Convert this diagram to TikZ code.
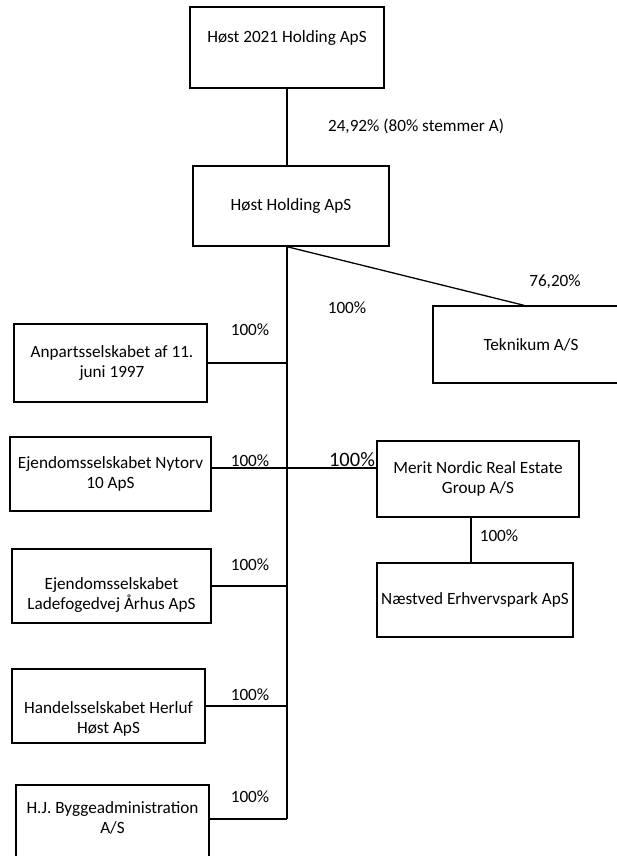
\documentclass[tikz,border=0pt]{standalone}
\usepackage{fontspec}
\setmainfont{Carlito}
\usetikzlibrary{calc}

\begin{document}
\begin{tikzpicture}[x=1pt,y=-1pt,
    company/.style={draw,line width=1.4pt,rectangle,inner sep=0pt,fill=white},
    coname/.style={align=center,font=\fontsize{17.2}{19.5}\selectfont},
    share/.style={font=\fontsize{17.2}{19.5}\selectfont},
    owns/.style={line width=1.3pt}
    ]

  \useasboundingbox (0,0) rectangle (617,856);
  \clip (0,0) rectangle (617,856);

  % top of the group
  \node(holding2021) [company,minimum width=194pt,minimum height=81pt] at (287,47.5) {};
  \node(holding2021Name) [coname,yshift=9.5pt] at (holding2021.center) {Høst 2021 Holding ApS};

  \node(holding) [company,minimum width=196pt,minimum height=80pt] at (291,206) {};
  \node(holdingName) [coname] at (holding.center) {Høst Holding ApS};

  \coordinate(trunkTop) at ($(holding.south)+(-4,0)$);
  \coordinate(trunkEnd) at (287,819);

  % right hand side
  \node(teknikum) [company,minimum width=196pt,minimum height=77pt] at (531,344.5) {};
  \node(teknikumName) [coname] at (teknikum.center) {Teknikum A/S};

  \node(merit) [company,minimum width=202pt,minimum height=76pt] at (478,479) {};
  \node(meritName) [coname] at (merit.center) {Merit Nordic Real Estate\\Group A/S};

  \node(naestved) [company,minimum width=196pt,minimum height=74pt] at (475,600) {};
  \node(naestvedName) [coname] at (naestved.center) {Næstved Erhvervspark ApS};

  % left hand side
  \node(anparts) [company,minimum width=193pt,minimum height=78pt] at (110.5,363) {};
  \node(anpartsName) [coname,xshift=1.5pt] at (anparts.center) {Anpartsselskabet af 11.\\juni 1997};

  \node(nytorv) [company,minimum width=201pt,minimum height=74pt] at (110.5,474) {};
  \node(nytorvName) [coname] at (nytorv.center) {Ejendomsselskabet Nytorv\\10 ApS};

  \node(ladefoged) [company,minimum width=199pt,minimum height=74pt] at (111.5,586) {};
  \node(ladefogedName) [coname,yshift=-9pt] at (ladefoged.center) {Ejendomsselskabet\\Ladefogedvej Århus ApS};

  \node(herluf) [company,minimum width=193pt,minimum height=74pt] at (108.5,706) {};
  \node(herlufName) [coname,yshift=-13pt] at (herluf.center) {Handelsselskabet Herluf\\Høst ApS};

  \node(hj) [company,minimum width=193pt,minimum height=80pt] at (112.5,825) {};
  \node(hjName) [coname,yshift=7pt] at (hj.center) {H.J. Byggeadministration\\A/S};

  % ownership lines
  \draw[owns] (holding2021.south) -- (holding2021.south |- holding.north);
  \draw[owns] (trunkTop) -- (trunkEnd);
  \draw[owns] (trunkTop) -- ($(teknikum.north)+(-7,0)$);
  \draw[owns] (anparts.east) -- (anparts.east -| trunkTop);
  \draw[owns] ([yshift=6pt]nytorv.east) -- ([yshift=6pt]nytorv.east -| merit.west);
  \draw[owns] (ladefoged.east) -- (ladefoged.east -| trunkTop);
  \draw[owns] (herluf.east) -- (herluf.east -| trunkTop);
  \draw[owns] (trunkEnd) -- (trunkEnd -| hj.east);
  \draw[owns] ([xshift=-7pt]merit.south) -- ([xshift=-7pt]merit.south |- naestved.north);

  % shares
  \node(share2021) [share] at (416,126) {24,92\% (80\% stemmer A)};
  \node(shareTeknikum) [share] at (555,282) {76,20\%};
  \node(shareTrunk) [share] at (347,308) {100\%};
  \node(shareAnparts) [share] at (250,330) {100\%};
  \node(shareNytorv) [share] at (250,461) {100\%};
  \node(shareMerit) [share,font=\fontsize{20.5}{22}\selectfont] at (352,460) {100\%};
  \node(shareNaestved) [share] at (499,536) {100\%};
  \node(shareLadefoged) [share] at (250,565) {100\%};
  \node(shareHerluf) [share] at (250,695) {100\%};
  \node(shareHj) [share] at (250,797) {100\%};

\end{tikzpicture}
\end{document}
